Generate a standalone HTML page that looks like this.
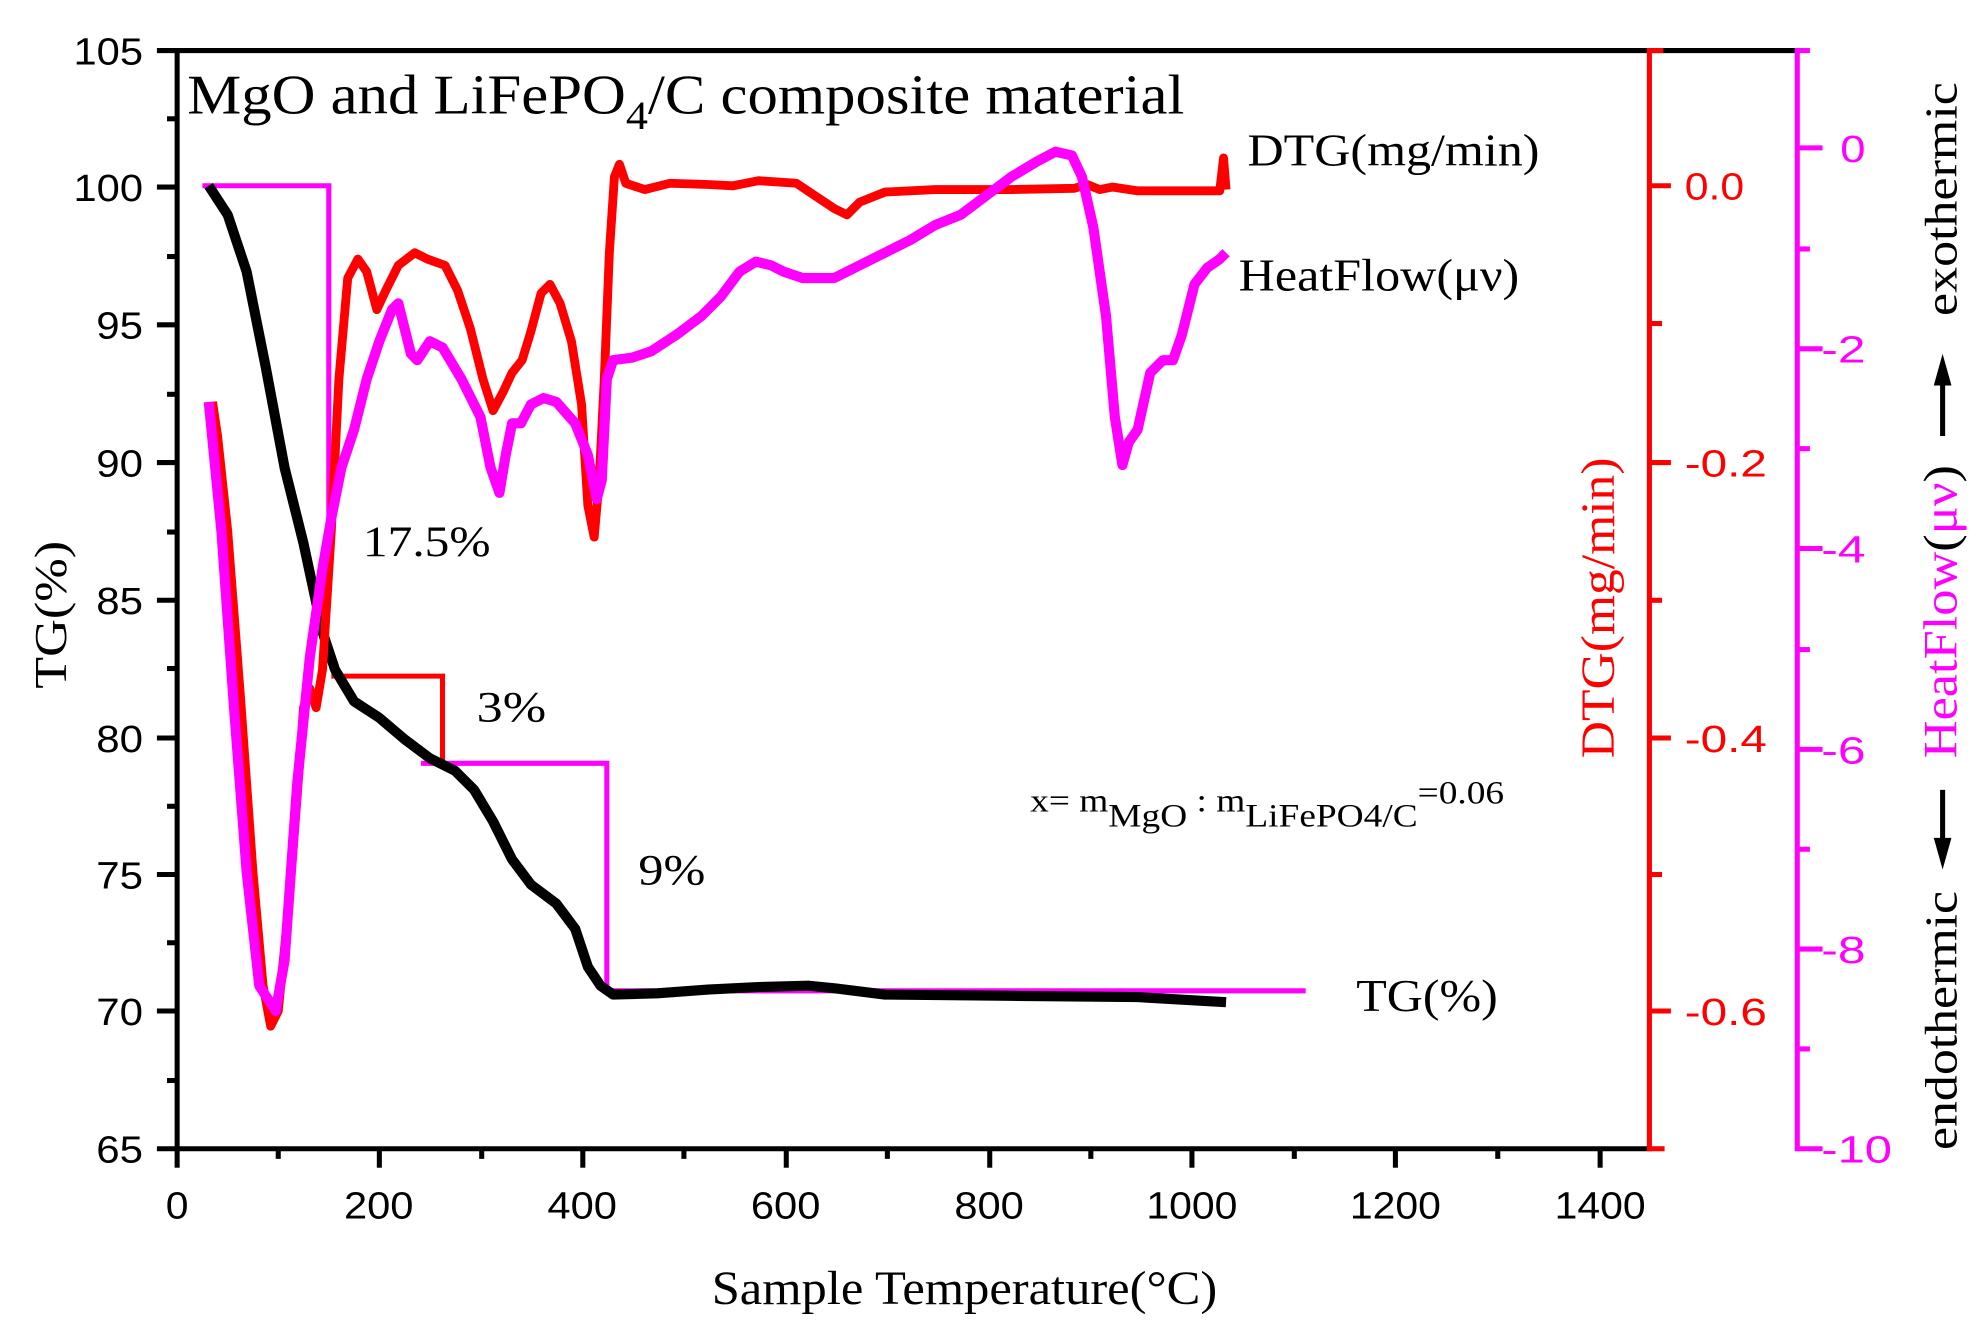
<!DOCTYPE html>
<html><head><meta charset="utf-8"><style>
html,body{margin:0;padding:0;background:#fff;}
svg{display:block;}
.s{font-family:"Liberation Sans",sans-serif;}
.r{font-family:"Liberation Serif",serif;}
</style></head><body>
<svg width="1982" height="1332" viewBox="0 0 1568 1054" xmlns="http://www.w3.org/2000/svg">
<g fill="none" stroke-linecap="butt">
<line x1="138" y1="40" x2="1422" y2="40" stroke="#000" stroke-width="4"/>
<line x1="140" y1="38" x2="140" y2="911" stroke="#000" stroke-width="4"/>
<line x1="138" y1="909" x2="1305" y2="909" stroke="#000" stroke-width="4"/>
<g stroke="#000" stroke-width="4">
<line x1="124" y1="40" x2="140" y2="40"/><line x1="124" y1="148" x2="140" y2="148"/><line x1="124" y1="257" x2="140" y2="257"/><line x1="124" y1="366" x2="140" y2="366"/><line x1="124" y1="475" x2="140" y2="475"/><line x1="124" y1="584" x2="140" y2="584"/><line x1="124" y1="692" x2="140" y2="692"/><line x1="124" y1="800" x2="140" y2="800"/><line x1="124" y1="909" x2="140" y2="909"/>
<line x1="132" y1="94" x2="140" y2="94"/><line x1="132" y1="203" x2="140" y2="203"/><line x1="132" y1="312" x2="140" y2="312"/><line x1="132" y1="421" x2="140" y2="421"/><line x1="132" y1="529" x2="140" y2="529"/><line x1="132" y1="638" x2="140" y2="638"/><line x1="132" y1="746" x2="140" y2="746"/><line x1="132" y1="855" x2="140" y2="855"/>
<line x1="140" y1="909" x2="140" y2="924"/><line x1="300" y1="909" x2="300" y2="924"/><line x1="461" y1="909" x2="461" y2="924"/><line x1="622" y1="909" x2="622" y2="924"/><line x1="783" y1="909" x2="783" y2="924"/><line x1="943" y1="909" x2="943" y2="924"/><line x1="1104" y1="909" x2="1104" y2="924"/><line x1="1266" y1="909" x2="1266" y2="924"/>
<line x1="220" y1="909" x2="220" y2="917"/><line x1="381" y1="909" x2="381" y2="917"/><line x1="541" y1="909" x2="541" y2="917"/><line x1="702" y1="909" x2="702" y2="917"/><line x1="863" y1="909" x2="863" y2="917"/><line x1="1024" y1="909" x2="1024" y2="917"/><line x1="1185" y1="909" x2="1185" y2="917"/>
</g>
<g stroke="#f00" stroke-width="4">
<line x1="1305" y1="38" x2="1305" y2="911"/>
<line x1="1305" y1="40" x2="1316" y2="40"/><line x1="1305" y1="909" x2="1317" y2="909"/>
<line x1="1305" y1="147" x2="1322" y2="147"/><line x1="1305" y1="366" x2="1322" y2="366"/><line x1="1305" y1="584" x2="1322" y2="584"/><line x1="1305" y1="800" x2="1322" y2="800"/>
<line x1="1305" y1="256" x2="1315" y2="256"/><line x1="1305" y1="475" x2="1315" y2="475"/><line x1="1305" y1="692" x2="1315" y2="692"/>
</g>
<g stroke="#f0f" stroke-width="4">
<line x1="1422" y1="38" x2="1422" y2="911"/>
<line x1="1422" y1="40" x2="1432" y2="40"/>
<line x1="1422" y1="117" x2="1442" y2="117"/><line x1="1422" y1="276" x2="1442" y2="276"/><line x1="1422" y1="434" x2="1442" y2="434"/><line x1="1422" y1="593" x2="1442" y2="593"/><line x1="1422" y1="751" x2="1442" y2="751"/><line x1="1422" y1="909" x2="1442" y2="909"/>
<line x1="1422" y1="197" x2="1432" y2="197"/><line x1="1422" y1="355" x2="1432" y2="355"/><line x1="1422" y1="514" x2="1432" y2="514"/><line x1="1422" y1="672" x2="1432" y2="672"/><line x1="1422" y1="830" x2="1432" y2="830"/>
</g>
<polyline stroke="#f0f" stroke-width="4" points="160,147 262,147"/>
<line stroke="#f0f" stroke-width="4" x1="260" y1="147" x2="260" y2="440"/>
<polyline stroke="#f00" stroke-width="4" points="262,535 350,535 350,604"/>
<polyline stroke="#f0f" stroke-width="4" points="333,604 480,604 480,784 1033,784"/>
<polyline stroke="#000" stroke-width="8" stroke-linejoin="round" points="165,147 180,170 195,215 210,290 225,370 240,430 255,500 265,530 280,555 300,568 320,585 340,600 360,610 375,625 390,650 405,680 420,700 440,715 455,735 465,765 475,780 485,787 520,786 560,783 600,781 640,780 660,782 700,787 800,788 900,789 970,793"/>
<polyline stroke="#f00" stroke-width="7" stroke-linejoin="round" points="168,318 172,345 180,420 190,550 200,690 208,780 214,812 220,800 228,720 235,630 240,560 245,545 250,560 255,530 262,420 268,300 275,220 283,205 290,215 298,245 305,230 315,210 328,200 338,205 352,210 362,230 372,260 382,300 390,325 398,310 405,295 413,285 420,262 428,232 435,225 443,240 452,270 460,320 465,400 470,425 474,380 478,300 482,200 486,140 490,130 495,145 510,150 530,145 560,146 580,147 600,143 630,145 645,155 660,165 670,170 680,160 700,152 740,150 800,150 850,149 860,146 870,150 880,148 900,151 965,151 968,125 970,150"/>
<polyline stroke="#f0f" stroke-width="8" stroke-linejoin="round" points="165,318 175,420 185,560 195,690 205,780 218,800 225,760 235,620 245,520 255,450 262,410 270,370 280,340 290,300 300,270 310,245 315,240 320,260 325,280 330,285 340,270 350,275 365,300 380,330 388,370 395,390 400,360 405,335 412,335 420,320 430,315 440,318 455,335 465,360 472,395 476,380 480,300 485,285 500,283 515,278 535,265 555,250 570,235 585,215 598,207 610,210 620,215 635,220 660,220 680,210 700,200 720,190 740,178 760,170 780,155 800,140 820,128 835,120 848,123 856,140 865,180 875,250 882,330 888,368 893,350 900,340 910,295 920,285 928,285 935,265 945,225 955,212 965,205 970,200"/>
<line x1="1537" y1="345" x2="1537" y2="300" stroke="#000" stroke-width="4"/>
<line x1="1537" y1="625" x2="1537" y2="665" stroke="#000" stroke-width="4"/>
</g>
<polygon points="1537,280 1530,305 1544,305" fill="#000"/>
<polygon points="1537,688 1530,663 1544,663" fill="#000"/>
<g class="s" font-size="30" fill="#000" lengthAdjust="spacingAndGlyphs">
<text x="58" y="51" textLength="55" lengthAdjust="spacingAndGlyphs">105</text><text x="58" y="159" textLength="55" lengthAdjust="spacingAndGlyphs">100</text><text x="76" y="268" textLength="37" lengthAdjust="spacingAndGlyphs">95</text><text x="76" y="377" textLength="37" lengthAdjust="spacingAndGlyphs">90</text><text x="76" y="486" textLength="37" lengthAdjust="spacingAndGlyphs">85</text><text x="76" y="595" textLength="37" lengthAdjust="spacingAndGlyphs">80</text><text x="76" y="703" textLength="37" lengthAdjust="spacingAndGlyphs">75</text><text x="76" y="811" textLength="37" lengthAdjust="spacingAndGlyphs">70</text><text x="76" y="920" textLength="37" lengthAdjust="spacingAndGlyphs">65</text>
</g>
<g class="s" font-size="30" fill="#000">
<text x="131" y="964" textLength="18" lengthAdjust="spacingAndGlyphs">0</text><text x="272" y="964" textLength="55" lengthAdjust="spacingAndGlyphs">200</text><text x="433" y="964" textLength="55" lengthAdjust="spacingAndGlyphs">400</text><text x="594" y="964" textLength="55" lengthAdjust="spacingAndGlyphs">600</text><text x="755" y="964" textLength="55" lengthAdjust="spacingAndGlyphs">800</text><text x="907" y="964" textLength="72" lengthAdjust="spacingAndGlyphs">1000</text><text x="1068" y="964" textLength="72" lengthAdjust="spacingAndGlyphs">1200</text><text x="1230" y="964" textLength="72" lengthAdjust="spacingAndGlyphs">1400</text>
</g>
<g class="s" font-size="30" fill="#f00">
<text x="1333" y="158" textLength="47" lengthAdjust="spacingAndGlyphs">0.0</text><text x="1333" y="377" textLength="65" lengthAdjust="spacingAndGlyphs">-0.2</text><text x="1333" y="595" textLength="65" lengthAdjust="spacingAndGlyphs">-0.4</text><text x="1333" y="811" textLength="65" lengthAdjust="spacingAndGlyphs">-0.6</text>
</g>
<g class="s" font-size="30" fill="#f0f">
<text x="1456" y="128" textLength="20" lengthAdjust="spacingAndGlyphs">0</text><text x="1441" y="287" textLength="35" lengthAdjust="spacingAndGlyphs">-2</text><text x="1441" y="445" textLength="35" lengthAdjust="spacingAndGlyphs">-4</text><text x="1441" y="604" textLength="35" lengthAdjust="spacingAndGlyphs">-6</text><text x="1441" y="762" textLength="35" lengthAdjust="spacingAndGlyphs">-8</text><text x="1441" y="920" textLength="56" lengthAdjust="spacingAndGlyphs">-10</text>
</g>
<g class="r">
<text x="563" y="1032" font-size="38" textLength="400" lengthAdjust="spacingAndGlyphs">Sample Temperature(°C)</text>
<text transform="translate(52,545) rotate(-90)" font-size="36" textLength="117" lengthAdjust="spacingAndGlyphs">TG(%)</text>
<text transform="translate(1277,600) rotate(-90)" font-size="38" fill="#f00" textLength="238" lengthAdjust="spacingAndGlyphs">DTG(mg/min)</text>
<text transform="translate(1548,600) rotate(-90)" font-size="38" fill="#f0f" textLength="232" lengthAdjust="spacingAndGlyphs">HeatFlow<tspan fill="#000">(</tspan>μν<tspan fill="#000">)</tspan></text>
<text transform="translate(1548,250) rotate(-90)" font-size="36" textLength="185" lengthAdjust="spacingAndGlyphs">exothermic</text>
<text transform="translate(1548,910) rotate(-90)" font-size="36" textLength="205" lengthAdjust="spacingAndGlyphs">endothermic</text>
<text x="148" y="90" font-size="44" textLength="789" lengthAdjust="spacingAndGlyphs">MgO and LiFePO<tspan font-size="32" dy="12">4</tspan><tspan dy="-12">/C composite material</tspan></text>
<text x="987" y="131" font-size="36" textLength="231" lengthAdjust="spacingAndGlyphs">DTG(mg/min)</text>
<text x="980" y="230" font-size="36" textLength="222" lengthAdjust="spacingAndGlyphs">HeatFlow(μν)</text>
<text x="287" y="440" font-size="34" textLength="101" lengthAdjust="spacingAndGlyphs">17.5%</text>
<text x="377" y="571" font-size="34" textLength="55" lengthAdjust="spacingAndGlyphs">3%</text>
<text x="505" y="700" font-size="34" textLength="53" lengthAdjust="spacingAndGlyphs">9%</text>
<text x="1073" y="800" font-size="36" textLength="112" lengthAdjust="spacingAndGlyphs">TG(%)</text>
<text x="815" y="642" font-size="26" textLength="375" lengthAdjust="spacingAndGlyphs">x= m<tspan dy="12">MgO</tspan><tspan dy="-12"> : m</tspan><tspan dy="12">LiFePO4/C</tspan><tspan dy="-18">=0.06</tspan></text>
</g>
</svg>
</body></html>
